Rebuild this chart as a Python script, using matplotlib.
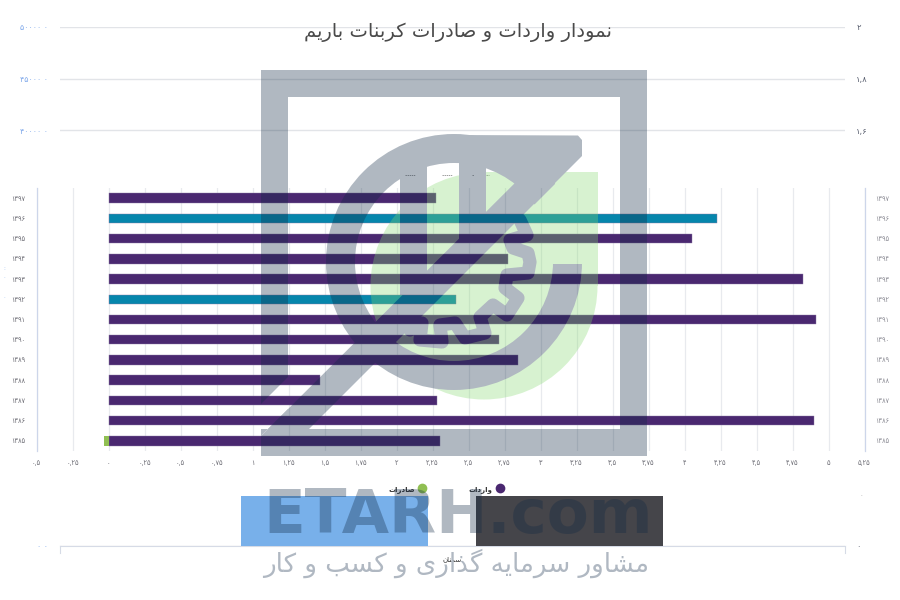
import numpy as np
import matplotlib
matplotlib.use("Agg")
import matplotlib.pyplot as plt
from matplotlib.figure import Figure
from matplotlib.backends.backend_agg import FigureCanvasAgg
from matplotlib.lines import Line2D
from matplotlib.patches import Circle, Polygon, Rectangle

# ---------- data ----------
years = ["۱۳۹۷", "۱۳۹۶", "۱۳۹۵", "۱۳۹۴", "۱۳۹۳", "۱۳۹۲", "۱۳۹۱",
         "۱۳۹۰", "۱۳۸۹", "۱۳۸۸", "۱۳۸۷", "۱۳۸۶", "۱۳۸۵"]
imports = [2.275, 4.225, 4.05, 2.775, 4.82, 2.41, 4.91,
           2.715, 2.845, 1.47, 2.28, 4.90, 2.305]
exports = [0, 0, 0, 0, 0, 0, 0, 0, 0, 0, 0, 0, -0.03]
bar_kinds = ["p", "t", "p", "p", "p", "t", "p", "p", "p", "p", "p", "p", "p"]
x_ticks = [-0.5, -0.25, 0, 0.25, 0.5, 0.75, 1, 1.25, 1.5, 1.75, 2, 2.25, 2.5,
           2.75, 3, 3.25, 3.5, 3.75, 4, 4.25, 4.5, 4.75, 5, 5.25]
x_labels = ["۰,۵", "۰,۲۵", "۰", "۰,۲۵", "۰,۵", "۰,۷۵", "۱", "۱,۲۵", "۱,۵", "۱,۷۵",
            "۲", "۲,۲۵", "۲,۵", "۲,۷۵", "۳", "۳,۲۵", "۳,۵", "۳,۷۵", "۴", "۴,۲۵",
            "۴,۵", "۴,۷۵", "۵", "۵,۲۵"]
back_left_ticks = [0, 40000, 45000, 50000]
back_left_labels = ["۰ ۰", "۴۰۰۰۰ ۰", "۴۵۰۰۰ ۰", "۵۰۰۰۰ ۰"]
back_right_ticks = [0, 1.6, 1.8, 2]
back_right_labels = ["۰", "۱,۶", "۱,۸", "۲"]
title = "نمودار واردات و صادرات کربنات باریم"
subtitle = "مشاور سرمایه گذاری و کسب و کار"
brand = "ETARH.com"
legend_imports = "واردات"
legend_exports = "صادرات"
back_category = "سمنان"

# ---------- Arabic shaping (matplotlib has no bidi / joining) ----------
FORMS = {
    "ا": (0xFE8D, 0xFE8E), "د": (0xFEA9, 0xFEAA), "ذ": (0xFEAB, 0xFEAC),
    "ر": (0xFEAD, 0xFEAE), "ز": (0xFEAF, 0xFEB0), "و": (0xFEED, 0xFEEE),
    "ب": (0xFE8F, 0xFE90, 0xFE91, 0xFE92), "ت": (0xFE95, 0xFE96, 0xFE97, 0xFE98),
    "س": (0xFEB1, 0xFEB2, 0xFEB3, 0xFEB4), "ش": (0xFEB5, 0xFEB6, 0xFEB7, 0xFEB8),
    "ص": (0xFEB9, 0xFEBA, 0xFEBB, 0xFEBC), "ک": (0xFB8E, 0xFB8F, 0xFB90, 0xFB91),
    "گ": (0xFB92, 0xFB93, 0xFB94, 0xFB95), "م": (0xFEE1, 0xFEE2, 0xFEE3, 0xFEE4),
    "ن": (0xFEE5, 0xFEE6, 0xFEE7, 0xFEE8), "ه": (0xFEE9, 0xFEEA, 0xFEEB, 0xFEEC),
    "ی": (0xFBFC, 0xFBFD, 0xFBFE, 0xFBFF),
}


def shape(s):
    out = []
    for i, ch in enumerate(s):
        f = FORMS.get(ch)
        if f is None:
            out.append(ch)
            continue
        prev = s[i - 1] if i else " "
        nxt = s[i + 1] if i + 1 < len(s) else " "
        joins_prev = prev in FORMS and len(FORMS[prev]) == 4
        joins_next = nxt in FORMS and len(f) == 4
        if joins_prev and joins_next:
            g = f[3]
        elif joins_prev:
            g = f[1]
        elif joins_next:
            g = f[2]
        else:
            g = f[0]
        out.append(chr(g))
    return "".join(reversed(out))


# ---------- figure ----------
W, H = 900, 600
fig = plt.figure(figsize=(W / 100, H / 100), dpi=100, facecolor="white")


def box(l, t, r, b):
    return [l / W, 1 - b / H, (r - l) / W, (b - t) / H]


def fx(x):
    return x / W


def fy(y):
    return 1 - y / H


# back chart
back = fig.add_axes(box(60, 26.7, 845, 545.5), facecolor="none", zorder=1)
back.set_xlim(0, 1)
back.set_ylim(0, 50000)
back.set_yticks(back_left_ticks, back_left_labels)
back.set_xticks([0.5], [shape(back_category)])
back.tick_params(axis="x", length=0, labelsize=5, labelcolor="#333333", pad=8)
back.tick_params(axis="y", length=0, labelsize=5.7, labelcolor="#7fa8ea", pad=8.6)
back.grid(axis="y", color="#e2e4e8", lw=1)
for s in ("top", "left", "right"):
    back.spines[s].set_visible(False)
back.spines["bottom"].set_color("#d6dbe6")
for xp in (60, 845):
    fig.add_artist(Line2D([fx(xp)] * 2, [fy(545.5), fy(553)], color="#d6dbe6", lw=0.8))
back_r = back.twinx()
back_r.set_ylim(0, 2)
back_r.set_yticks(back_right_ticks, back_right_labels)
back_r.tick_params(axis="y", length=0, labelsize=6, labelcolor="#5a6070", pad=8)
for s in back_r.spines.values():
    s.set_visible(False)

# main bar chart
ax = fig.add_axes(box(36.5, 188, 864.5, 451), facecolor="none", zorder=2)
pos = np.arange(len(years))
colors = {"p": "#4a2870", "t": "#0686ac"}
ax.barh(pos, imports, height=0.47, color=[colors[k] for k in bar_kinds],
        edgecolor="#8d7aa5", linewidth=0.3, zorder=3)
ax.barh(pos, exports, height=0.47, color="#90bf52", zorder=3)
ax.set_xlim(-0.5, 5.25)
ax.set_ylim(len(years) - 0.5, -0.5)
ax.set_yticks(pos, years)
ax.set_xticks(x_ticks, x_labels)
ax.tick_params(axis="x", length=0, labelsize=4.8, labelcolor="#6d6d75", pad=6.5)
ax.tick_params(axis="y", length=0, labelsize=4.8, labelcolor="#6d6d75", pad=8,
               labelright=True)
for t in ax.yaxis.get_major_ticks():
    t.label2.set_color("#8b8b94")
ax.grid(axis="x", color="#e8eaee", lw=0.9, zorder=0)
for s in ("top", "bottom"):
    ax.spines[s].set_visible(False)
for s in ("left", "right"):
    ax.spines[s].set_color("#cdd6ea")
    ax.spines[s].set_linewidth(0.9)

# title
fig.text(fx(458), fy(32), shape(title), ha="center", va="center", fontsize=14,
         color="#4a4a4a", zorder=5)

# legend (back chart's highlights sit beneath)
fig.add_artist(Rectangle((fx(240.7), fy(545.5)), 187.3 / W, 49.5 / H, transform=fig.transFigure,
                         color="#78b0ea", zorder=3, lw=0))
fig.add_artist(Rectangle((fx(475.7), fy(545.5)), 187.3 / W, 49.5 / H, transform=fig.transFigure,
                         color="#45454a", zorder=3, lw=0))
for cx, col, lab, rx in ((499.5, "#4a2870", legend_imports, 492),
                         (421.5, "#90bf52", legend_exports, 415)):
    fig.add_artist(Line2D([fx(cx)], [fy(488)], marker="o", ms=7, mfc=col, mec="none",
                          transform=fig.transFigure, zorder=4))
    fig.text(fx(rx), fy(490), shape(lab), ha="right", va="center", fontsize=5,
             color="#333333", fontweight="bold", zorder=4)

# stray specks
for x, y, s, c in ((4, 269, ":", "#8fb6ef"), (4, 277, ".", "#8fb6ef"),
                   (4, 297, ".", "#8fb6ef"), (861, 494, ".", "#888888")):
    fig.text(fx(x), fy(y), s, ha="center", va="center", fontsize=4, color=c)
for x0, x1 in ((405, 415), (442, 452), (472, 474), (486, 489)):
    fig.add_artist(Line2D([fx(x0), fx(x1)], [fy(175)] * 2, color="#777777", lw=0.5,
                          ls=(0, (2, 1)), zorder=2))


# ---------- watermark logo (raster overlay, like the reference) ----------
def mask(draw):
    f = Figure(figsize=(W / 100, H / 100), dpi=100, facecolor="white")
    FigureCanvasAgg(f)
    a = f.add_axes([0, 0, 1, 1])
    a.set_xlim(0, W)
    a.set_ylim(H, 0)
    a.axis("off")
    draw(a)
    f.canvas.draw()
    return 1 - np.asarray(f.canvas.buffer_rgba())[..., 0] / 255.0


def draw_gray(a):
    k, w = "black", "white"
    a.add_patch(Circle((454, 262), 128, fc=k, ec="none"))
    a.add_patch(Circle((454, 262), 99, fc=w, ec="none"))
    a.add_patch(Polygon([(583, 156), (475, 264), (610, 264), (610, 120), (470, 120)],
                        fc=w, ec="none"))
    # top band + diagonal
    a.add_patch(Polygon([(454, 135), (578, 135.5), (582, 140), (582, 156), (309, 429),
                         (261, 429), (261, 436), (535, 163), (459, 163), (454, 163)],
                        fc=k, ec="none"))
    # upright bars
    a.add_patch(Rectangle((400, 165), 27, 130, fc=k, ec="none"))
    a.add_patch(Rectangle((459, 150), 27, 90, fc=k, ec="none"))
    # frame
    a.add_patch(Polygon([(261, 70), (647, 70), (647, 456), (261, 456), (261, 436),
                         (288, 409), (288, 429), (620, 429), (620, 97), (288, 97),
                         (288, 377), (261, 404)], fc=k, ec="none"))
    # gear teeth
    gx = [520, 527, 510, 513, 528, 530, 528, 507, 505, 518, 507, 493, 480, 485,
          465, 455, 440, 442, 420, 422, 410]
    gy = [220, 235, 240, 248, 253, 262, 273, 275, 288, 298, 315, 305, 317, 333,
          338, 323, 325, 342, 340, 323, 330]
    a.plot(gx, gy, color=k, lw=9.5, solid_joinstyle="round", solid_capstyle="round")


def draw_green(a):
    a.add_patch(Circle((484, 286), 113.5, fc="black", ec="none"))
    a.add_patch(Rectangle((484, 172), 113.5, 114, fc="black", ec="none"))


gray_m = mask(draw_gray)
green_m = mask(draw_green)
ga = gray_m * 0.33
gr = green_m * (1 - gray_m) * 0.32
alpha = ga + gr
safe = np.where(alpha > 0, alpha, 1)
rgba = np.zeros((H, W, 4))
for i, (c1, c2) in enumerate(((16, 130), (40, 217), (67, 108))):
    rgba[..., i] = (ga * c1 + gr * c2) / safe / 255
rgba[..., 3] = alpha
fig.figimage(rgba, 0, 0, origin="upper", zorder=10, resize=False)

# watermark text
fig.text(fx(263), fy(533), brand, ha="left", va="baseline", fontsize=44,
         fontweight="bold", color=(16 / 255, 40 / 255, 67 / 255), alpha=0.33, zorder=11)
fig.text(fx(456), fy(563), shape(subtitle), ha="center", va="center", fontsize=18.8,
         color="#b0b8c2", zorder=11)

fig.savefig("out.png", dpi=100)
